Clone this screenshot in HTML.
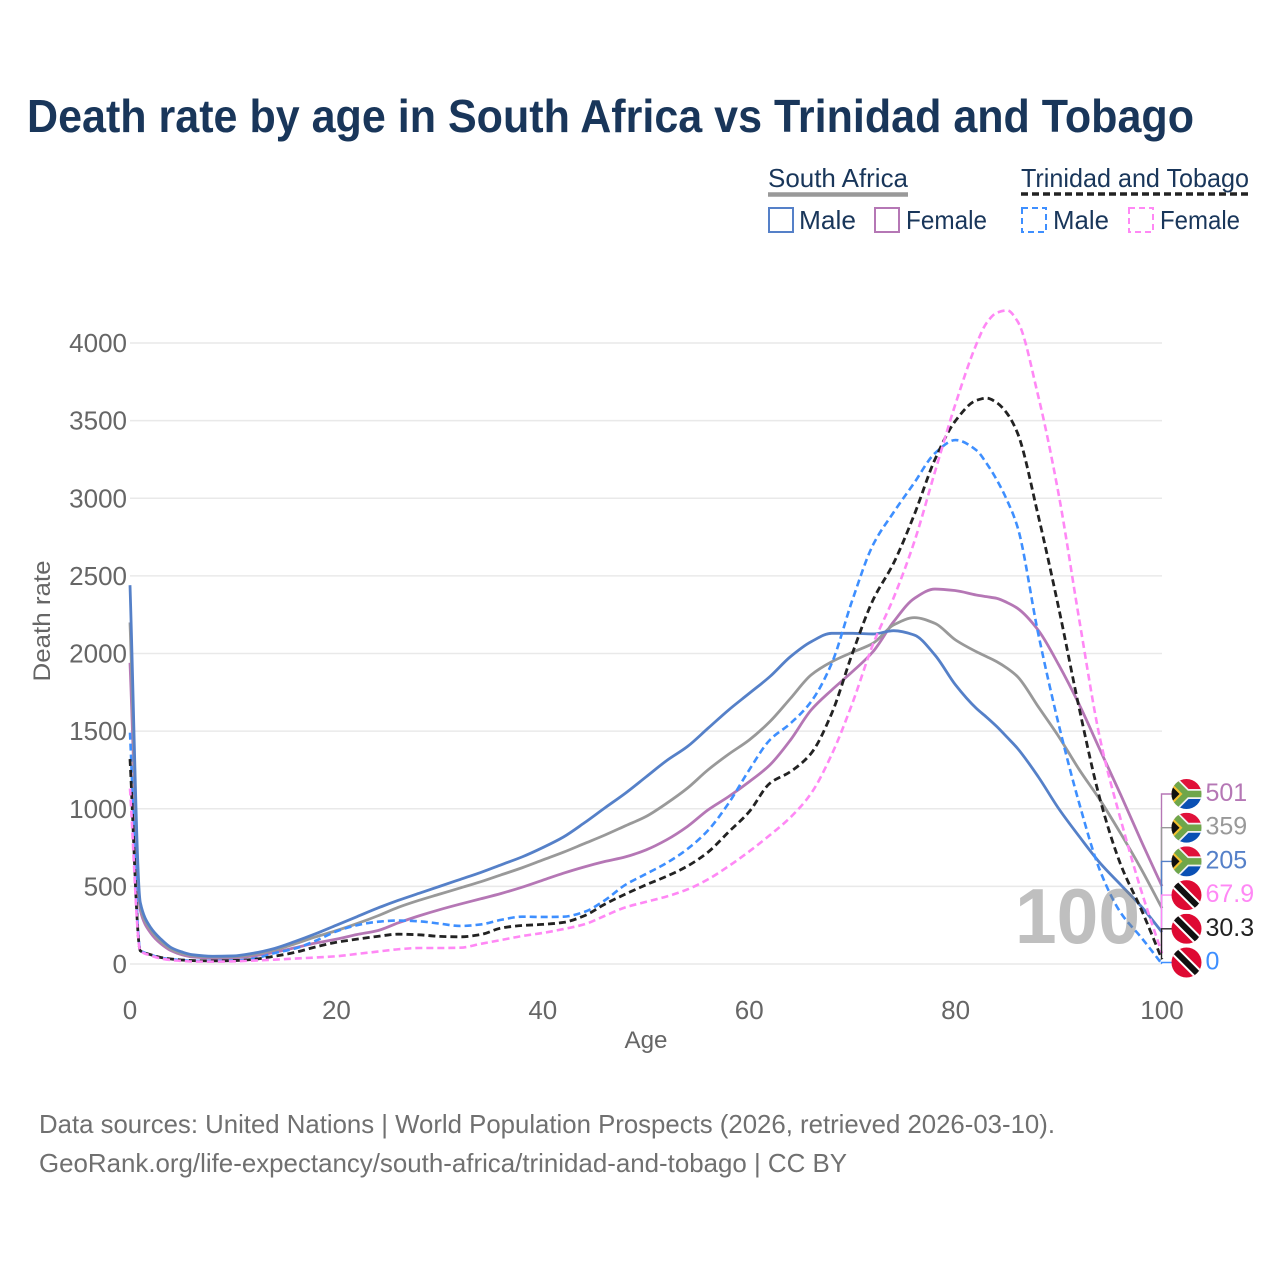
<!DOCTYPE html>
<html lang="en">
<head>
<meta charset="utf-8">
<title>Death rate by age in South Africa vs Trinidad and Tobago</title>
<style>
html,body{margin:0;padding:0;background:#fff;width:1280px;height:1280px;overflow:hidden}
svg{display:block}
text{font-family:"Liberation Sans","DejaVu Sans",sans-serif}
</style>
</head>
<body>
<svg id="chart" xmlns="http://www.w3.org/2000/svg" width="1280" height="1280" viewBox="0 0 1280 1280">
  <defs>
    <clipPath id="flag-clip"><circle cx="0" cy="0" r="15"/></clipPath>
    <g id="flag-za">
      <g clip-path="url(#flag-clip)">
        <rect x="-15" y="-15" width="30" height="15" fill="#e0113a"/>
        <rect x="-15" y="0" width="30" height="15" fill="#0a50b4"/>
        <path d="M-15,-15 L0,0 L-15,15 M0,0 L15,0" fill="none" stroke="#f2f2f2" stroke-width="10"/>
        <path d="M-15,-15 L0,0 L-15,15 M0,0 L15,0" fill="none" stroke="#6fa64a" stroke-width="6.5"/>
        <path d="M-15,-11 L-4,0 L-15,11 Z" fill="#f5c12e"/>
        <path d="M-15,-8 L-7,0 L-15,8 Z" fill="#111"/>
      </g>
    </g>
    <g id="flag-tt">
      <g clip-path="url(#flag-clip)">
        <rect x="-15" y="-15" width="30" height="30" fill="#de0a33"/>
        <path d="M-15,-15 L15,15" stroke="#fff" stroke-width="10"/>
        <path d="M-15,-15 L15,15" stroke="#111" stroke-width="6"/>
      </g>
    </g>
  </defs>

  <text x="27" y="132" font-size="46" font-weight="700" fill="#19365a" textLength="1167" lengthAdjust="spacingAndGlyphs">Death rate by age in South Africa vs Trinidad and Tobago</text>

  <g>
    <text x="768" y="187" font-size="26" fill="#19365a" textLength="140" lengthAdjust="spacingAndGlyphs">South Africa</text>
    <line x1="768" y1="194.500" x2="908" y2="194.500" stroke="#999" stroke-width="4.500"/>
    <text x="1021" y="187" font-size="26" fill="#19365a" textLength="228" lengthAdjust="spacingAndGlyphs">Trinidad and Tobago</text>
    <line x1="1021" y1="194" x2="1249" y2="194" stroke="#222" stroke-width="3.500" stroke-dasharray="7 4"/>

    <rect x="769" y="208" width="24" height="24" fill="none" stroke="#5580c8" stroke-width="2"/>
    <text x="799" y="229" font-size="26" fill="#19365a" textLength="57" lengthAdjust="spacingAndGlyphs">Male</text>
    <rect x="875" y="208" width="24" height="24" fill="none" stroke="#b577b5" stroke-width="2"/>
    <text x="906" y="229" font-size="26" fill="#19365a" textLength="81" lengthAdjust="spacingAndGlyphs">Female</text>
    <rect x="1022" y="208" width="24" height="24" fill="none" stroke="#3e8fff" stroke-width="2" stroke-dasharray="6 4"/>
    <text x="1053" y="229" font-size="26" fill="#19365a" textLength="56" lengthAdjust="spacingAndGlyphs">Male</text>
    <rect x="1129" y="208" width="24" height="24" fill="none" stroke="#ff88f5" stroke-width="2" stroke-dasharray="6 4"/>
    <text x="1160" y="229" font-size="26" fill="#19365a" textLength="80" lengthAdjust="spacingAndGlyphs">Female</text>
  </g>

  <g id="grid"></g>
  <g id="y-axis"></g>
  <g id="x-axis"></g>
  <text transform="translate(50,621) rotate(-90)" text-anchor="middle" font-size="24" fill="#666" textLength="121" lengthAdjust="spacingAndGlyphs">Death rate</text>
  <text x="646" y="1048" text-anchor="middle" font-size="24" fill="#666" textLength="43" lengthAdjust="spacingAndGlyphs">Age</text>

  <g id="series"></g>

  <text x="1015" y="943" font-size="78" font-weight="700" fill="#808080" fill-opacity="0.5" textLength="125" lengthAdjust="spacingAndGlyphs">100</text>

  <g id="end-labels"></g>

  <text x="39" y="1133" font-size="26" fill="#707070" textLength="1016" lengthAdjust="spacingAndGlyphs">Data sources: United Nations | World Population Prospects (2026, retrieved 2026-03-10).</text>
  <text x="39" y="1172" font-size="26" fill="#707070" textLength="808" lengthAdjust="spacingAndGlyphs">GeoRank.org/life-expectancy/south-africa/trinidad-and-tobago | CC BY</text>
</svg>

<script>
const ages = [0,1,2,3,4,5,6,8,10,12,14,16,18,20,22,24,26,28,30,32,34,36,38,40,42,44,46,48,50,52,54,56,58,60,62,64,66,68,70,72,74,76,78,80,82,83,84,85,86,88,90,92,94,96,98,100];
const xTicks = [0,20,40,60,80,100];
const yTicks = [0,500,1000,1500,2000,2500,3000,3500,4000];

const saMale = [2440,395,235,160,105,78,60,50,52,70,100,145,195,250,305,360,410,455,500,545,590,640,690,750,818,908,1005,1100,1205,1310,1400,1518,1636,1743,1851,1980,2076,2130,2130,2126,2147,2119,1990,1797,1647,1590,1529,1460,1389,1207,1000,820,650,510,370,205];
const saBoth = [2200,370,220,145,95,68,54,45,47,62,90,130,175,215,260,310,365,410,450,490,530,575,620,670,720,775,830,890,950,1035,1132,1250,1351,1443,1561,1711,1862,1947,2008,2066,2184,2231,2194,2087,2012,1980,1947,1905,1851,1658,1464,1250,1056,840,610,359];
const saFemale = [1940,345,200,130,85,60,46,38,40,52,75,105,135,160,190,215,265,310,350,386,420,455,495,540,585,625,660,690,735,800,885,992,1078,1174,1282,1443,1636,1765,1883,2012,2205,2355,2415,2405,2377,2366,2355,2328,2291,2151,1926,1668,1378,1090,790,501];
const ttMale = [1490,90,60,40,30,25,20,20,22,35,70,100,150,210,250,272,280,275,260,245,255,285,305,303,305,335,410,510,580,651,740,860,1035,1250,1443,1550,1690,1937,2345,2700,2910,3100,3290,3375,3310,3225,3117,2985,2815,2130,1540,1030,600,330,170,0];
const ttBoth = [1320,85,60,42,32,26,22,20,22,30,50,75,110,140,160,178,192,188,178,175,190,232,248,255,268,310,385,450,510,565,630,720,850,981,1164,1239,1357,1615,2001,2345,2583,2895,3250,3500,3630,3645,3615,3545,3420,2890,2290,1640,1060,640,350,30.3];
const ttFemale = [1130,85,55,35,25,20,16,15,17,22,28,35,42,50,65,80,95,103,103,105,130,155,180,200,225,255,310,365,400,435,480,545,630,725,830,945,1099,1350,1680,2060,2360,2720,3170,3610,3990,4129,4195,4210,4140,3660,3020,2210,1450,930,470,67.9];

const seriesList = [
  {name:'sa-female', values:saFemale, color:'#b577b5', width:2.8, dash:'', flag:'flag-za'},
  {name:'sa-both', values:saBoth, color:'#999999', width:2.8, dash:'', flag:'flag-za'},
  {name:'sa-male', values:saMale, color:'#5580c8', width:2.8, dash:'', flag:'flag-za'},
  {name:'tt-male', values:ttMale, color:'#3e8fff', width:2.6, dash:'7 4', flag:'flag-tt'},
  {name:'tt-both', values:ttBoth, color:'#222222', width:2.8, dash:'7 4', flag:'flag-tt'},
  {name:'tt-female', values:ttFemale, color:'#ff88f5', width:2.6, dash:'7 4', flag:'flag-tt'}
];

const SVGNS = 'http://www.w3.org/2000/svg';
const xScale = v => 130 + v * 10.32;
const yScale = v => 964 - v * 0.15525;

function make(tag, attrs, parent) {
  const el = document.createElementNS(SVGNS, tag);
  for (const k in attrs) el.setAttribute(k, attrs[k]);
  parent.appendChild(el);
  return el;
}

function monotonePath(xs, ys) {
  const n = xs.length, d = [], m = [];
  for (let i = 0; i < n - 1; i++) d.push((ys[i + 1] - ys[i]) / (xs[i + 1] - xs[i]));
  m.push(d[0]);
  for (let i = 1; i < n - 1; i++) {
    if (d[i - 1] * d[i] <= 0) { m.push(0); continue; }
    const h0 = xs[i] - xs[i - 1], h1 = xs[i + 1] - xs[i];
    const w1 = 2 * h1 + h0, w2 = h1 + 2 * h0;
    m.push((w1 + w2) / (w1 / d[i - 1] + w2 / d[i]));
  }
  m.push(d[n - 2]);
  let p = 'M' + xs[0].toFixed(2) + ',' + ys[0].toFixed(2);
  for (let i = 0; i < n - 1; i++) {
    const h = (xs[i + 1] - xs[i]) / 3;
    p += 'C' + (xs[i] + h).toFixed(2) + ',' + (ys[i] + m[i] * h).toFixed(2) + ' ' +
         (xs[i + 1] - h).toFixed(2) + ',' + (ys[i + 1] - m[i + 1] * h).toFixed(2) + ' ' +
         xs[i + 1].toFixed(2) + ',' + ys[i + 1].toFixed(2);
  }
  return p;
}

const gridGroup = document.getElementById('grid');
const yAxisGroup = document.getElementById('y-axis');
const xAxisGroup = document.getElementById('x-axis');
const seriesGroup = document.getElementById('series');
const labelGroup = document.getElementById('end-labels');

yTicks.forEach(t => {
  const gl = make('line', {x1:130, x2:1162, y1:yScale(t), y2:yScale(t), stroke:'#e9e9e9', 'stroke-width':1.6}, gridGroup);
  
  
  const lb = make('text', {x:127, y:yScale(t) + 9, 'text-anchor':'end', 'font-size':26, fill:'#666'}, yAxisGroup);
  lb.textContent = String(t);
  
  
});

xTicks.forEach(t => {
  const lb = make('text', {x:xScale(t), y:1019, 'text-anchor':'middle', 'font-size':26, fill:'#666'}, xAxisGroup);
  lb.textContent = String(t);
  
  
});

const xPix = ages.map(xScale);
seriesList.forEach(s => {
  const attrs = {d:monotonePath(xPix, s.values.map(yScale)), fill:'none', stroke:s.color, 'stroke-width':s.width, 'stroke-linejoin':'round'};
  if (s.dash) attrs['stroke-dasharray'] = s.dash;
  const path = make('path', attrs, seriesGroup);
  
  
});

const ranked = seriesList.slice().sort((a, b) => b.values[b.values.length - 1] - a.values[a.values.length - 1]);
ranked.forEach((s, i) => {
  const last = s.values[s.values.length - 1];
  const rowY = 794 + i * 33.7;
  const stem = make('path', {d:'M1172,' + rowY + 'H1161.500V' + yScale(last), fill:'none', stroke:s.color, 'stroke-width':1.4}, labelGroup);
  
  
  const flag = make('use', {href:'#' + s.flag, x:1186.500, y:rowY}, labelGroup);
  
  
  const label = make('text', {x:1205.500, y:rowY + 7, 'font-size':25, fill:s.color}, labelGroup);
  label.textContent = String(last);
  
  
});
</script>
</body>
</html>
